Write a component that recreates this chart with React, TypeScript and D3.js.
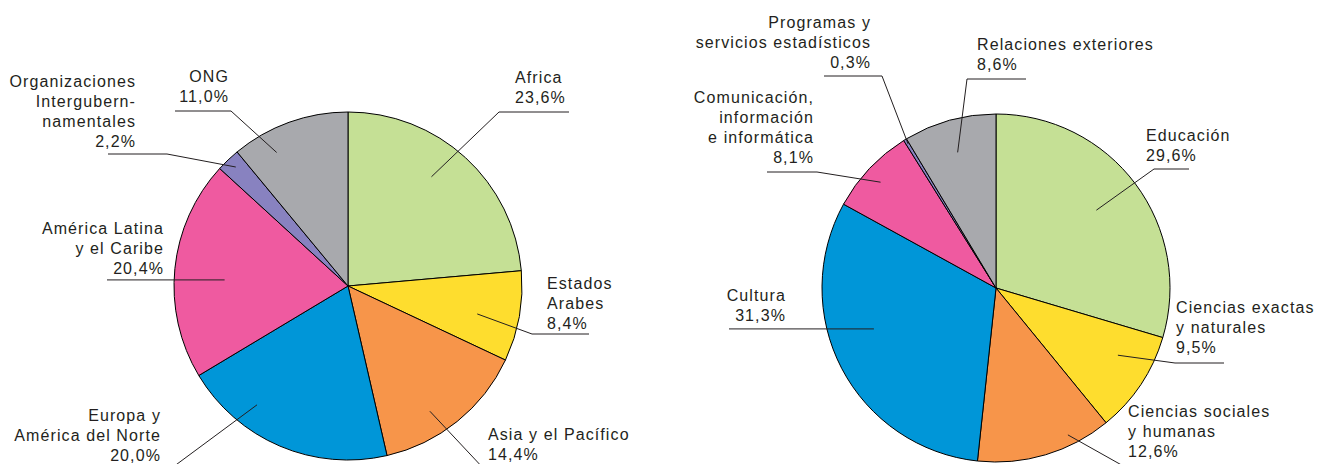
import { useEffect, useRef } from 'react';
import * as d3 from 'd3';

// left pie: regions
const regionNames = [
  'Africa',
  'Estados\nArabes',
  'Asia y el Pacífico',
  'Europa y\nAmérica del Norte',
  'América Latina\ny el Caribe',
  'Organizaciones\nIntergubern-\nnamentales',
  'ONG',
];
const regionValues = [23.6, 8.4, 14.4, 20.0, 20.4, 2.2, 11.0];

// right pie: sectors
const sectorNames = [
  'Educación',
  'Ciencias exactas\ny naturales',
  'Ciencias sociales\ny humanas',
  'Cultura',
  'Comunicación,\ninformación\ne informática',
  'Programas y\nservicios estadísticos',
  'Relaciones exteriores',
];
const sectorValues = [29.6, 9.5, 12.6, 31.3, 8.1, 0.3, 8.6];

const colors = ['#c5e095', '#fedd2e', '#f7954a', '#0096d8', '#ef5aa0', '#8882c0', '#a8a9ad'];

// label layout, relative to pie centre
// t: position inside slice angle, k: radius fraction, elbow, end x, text x, first baseline, anchor
type Lay = { t: number; k: number; ex: number; ey: number; endX: number; tx: number; ty: number; anchor: string; flat?: boolean };

const regionLayout: Lay[] = [
  { t: 0.44, k: 0.79, ex: 151, ey: -174, endX: 221, tx: 167, ty: -203, anchor: 'start' },
  { t: 0.57, k: 0.76, ex: 184, ey: 48, endX: 241, tx: 199, ty: 3, anchor: 'start' },
  { t: 0.61, k: 0.86, ex: 137, ey: 184, endX: 300, tx: 140, ty: 154, anchor: 'start' },
  { t: 0.7, k: 0.86, ex: -179, ey: 184, endX: -300, tx: -187, ty: 135, anchor: 'end' },
  { t: 0.46, k: 0.71, ex: 0, ey: 0, endX: -241, tx: -184, ty: -52, anchor: 'end', flat: true },
  { t: 0.53, k: 0.94, ex: -181, ey: -132, endX: -240, tx: -212, ty: -199, anchor: 'end' },
  { t: 0.29, k: 0.87, ex: -117, ey: -175, endX: -173, tx: -119, ty: -204, anchor: 'end' },
];

const sectorLayout: Lay[] = [
  { t: 0.49, k: 0.73, ex: 158, ey: -119, endX: 193, tx: 150, ty: -147, anchor: 'start' },
  { t: 0.36, k: 0.8, ex: 179, ey: 75, endX: 228, tx: 180, ty: 25, anchor: 'start' },
  { t: 0.29, k: 0.94, ex: 138, ey: 184, endX: 300, tx: 132, ty: 129, anchor: 'start' },
  { t: 0.58, k: 0.74, ex: 0, ey: 0, endX: -267, tx: -210, ty: 13, anchor: 'end', flat: true },
  { t: 0.47, k: 0.9, ex: -179, ey: -116, endX: -229, tx: -182, ty: -185, anchor: 'end' },
  { t: 0.6, k: 0.97, ex: -114, ey: -212, endX: -172, tx: -125, ty: -260, anchor: 'end' },
  { t: 0.49, k: 0.81, ex: -29, ey: -209, endX: 30, tx: -19, ty: -238, anchor: 'start' },
];

const W = 1334;
const H = 464;
const R = 174;
const INK = '#231f20';

const pct = (v: number) => d3.format('.1f')(v).replace('.', ',') + '%';

function drawPie(g: any, names: string[], values: number[], layout: Lay[]) {
  const pie = d3.pie<number>().sort(null).value((d) => d);
  const arcs = pie(values);
  const arc = d3.arc<any>().innerRadius(0).outerRadius(R);

  g.selectAll('path.slice')
    .data(arcs)
    .join('path')
    .attr('class', 'slice')
    .attr('d', arc)
    .attr('fill', (_: any, i: number) => colors[i])
    .attr('stroke', '#000')
    .attr('stroke-width', 1)
    .attr('stroke-linejoin', 'round');

  arcs.forEach((a, i) => {
    const L = layout[i];
    const ang = a.startAngle + L.t * (a.endAngle - a.startAngle);
    const px = Math.sin(ang) * R * L.k;
    const py = -Math.cos(ang) * R * L.k;
    const pts: [number, number][] = L.flat
      ? [[px, py], [L.endX, py]]
      : [[px, py], [L.ex, L.ey], [L.endX, L.ey]];

    g.append('path')
      .attr('d', d3.line()(pts))
      .attr('fill', 'none')
      .attr('stroke', INK)
      .attr('stroke-width', 1);

    const lines = names[i].split('\n').concat(pct(values[i]));
    const txt = g
      .append('text')
      .attr('x', L.tx)
      .attr('y', L.ty)
      .attr('text-anchor', L.anchor)
      .attr('fill', INK)
      .style('font-family', '"Liberation Sans", Arial, sans-serif')
      .style('font-size', '16px')
      .style('letter-spacing', '1.1px');
    lines.forEach((s, j) => {
      txt.append('tspan').attr('x', L.tx).attr('y', L.ty + j * 20).text(s);
    });
  });
}

export default function App() {
  const svgRef = useRef<SVGSVGElement>(null);

  useEffect(() => {
    const svg = d3.select(svgRef.current);
    svg.selectAll('*').remove();

    const left = svg.append('g').attr('transform', 'translate(348,286)');
    drawPie(left, regionNames, regionValues, regionLayout);

    const right = svg.append('g').attr('transform', 'translate(996,288)');
    drawPie(right, sectorNames, sectorValues, sectorLayout);
  }, []);

  return (
    <svg
      ref={svgRef}
      width={W}
      height={H}
      style={{ position: 'absolute', left: 0, top: 0, background: '#fff' }}
    />
  );
}
